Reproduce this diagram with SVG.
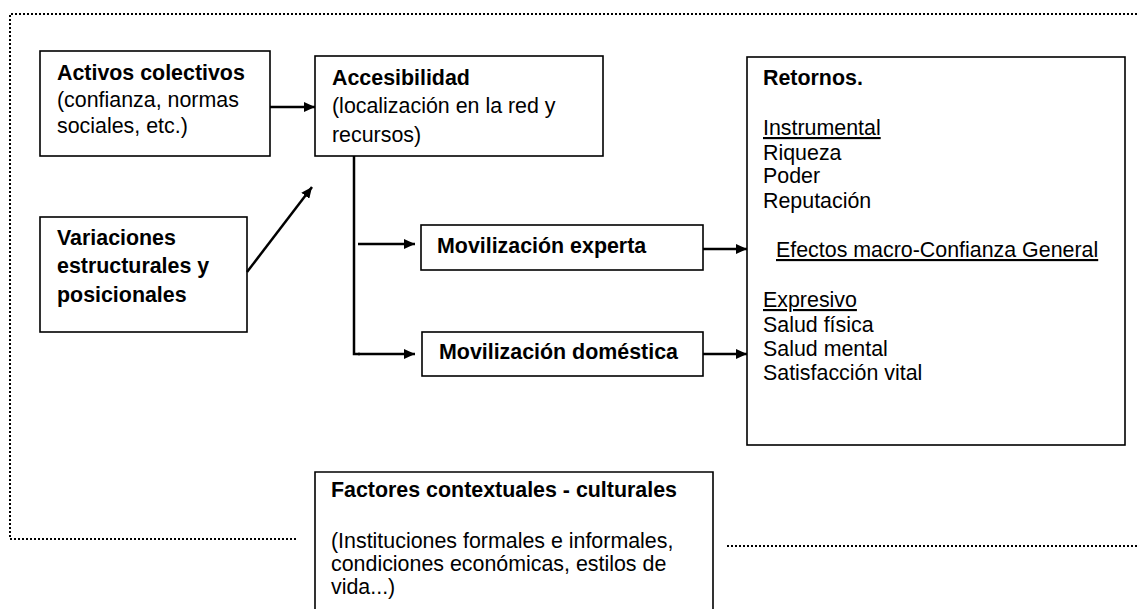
<svg xmlns="http://www.w3.org/2000/svg" width="1137" height="609" viewBox="0 0 1137 609">
<style>
text{font-family:"Liberation Sans",Arial,sans-serif;font-size:21.4px;fill:#000}
.b{font-weight:bold}
.u{text-decoration:underline}
.box{fill:#fff;stroke:#000;stroke-width:1.6}
.dot{fill:none;stroke:#000;stroke-width:2;stroke-dasharray:2 2}
.ar{fill:none;stroke:#000;stroke-width:2.5;marker-end:url(#ah)}
.ln{fill:none;stroke:#000;stroke-width:2.5}
</style>
<defs>
<marker id="ah" markerUnits="userSpaceOnUse" markerWidth="12" markerHeight="10" refX="11" refY="5" orient="auto">
<path d="M0,0 L11,5 L0,10 z" fill="#000"/>
</marker>
</defs>
<rect width="1137" height="609" fill="#fff"/>
<g id="frame">
<path class="dot" d="M1137,14 L10,14 L10,539 L298,539"/>
<path class="dot" d="M727,546 L1137,546"/>
</g>
<g id="activos">
<rect class="box" x="40" y="51" width="230" height="105"/>
<text class="b" x="57" y="80">Activos colectivos</text>
<text x="57" y="107">(confianza, normas</text>
<text x="57" y="133">sociales, etc.)</text>
</g>
<g id="accesibilidad">
<rect class="box" x="315" y="56" width="288" height="100"/>
<text class="b" x="332" y="85">Accesibilidad</text>
<text x="332" y="113">(localización en la red y</text>
<text x="332" y="142">recursos)</text>
</g>
<g id="variaciones">
<rect class="box" x="40" y="217" width="207" height="115"/>
<text class="b" x="57" y="245">Variaciones</text>
<text class="b" x="57" y="273">estructurales y</text>
<text class="b" x="57" y="302">posicionales</text>
</g>
<g id="experta">
<rect class="box" x="421" y="225" width="282" height="45"/>
<text class="b" x="437" y="253">Movilización experta</text>
</g>
<g id="domestica">
<rect class="box" x="422" y="332" width="281" height="44"/>
<text class="b" x="439" y="359">Movilización doméstica</text>
</g>
<g id="retornos">
<rect class="box" x="747" y="57" width="378" height="388"/>
<text class="b" x="763" y="85">Retornos.</text>
<text class="u" x="763" y="135">Instrumental</text>
<text x="763" y="160">Riqueza</text>
<text x="763" y="183">Poder</text>
<text x="763" y="208">Reputación</text>
<text class="u" x="776" y="257">Efectos macro-Confianza General</text>
<text class="u" x="763" y="307">Expresivo</text>
<text x="763" y="332">Salud física</text>
<text x="763" y="356">Salud mental</text>
<text x="763" y="380">Satisfacción vital</text>
</g>
<g id="factores">
<path class="box" d="M315,612 L315,472 L713,472 L713,612"/>
<text class="b" x="331" y="497">Factores contextuales - culturales</text>
<text x="331" y="548">(Instituciones formales e informales,</text>
<text x="331" y="571">condiciones económicas, estilos de</text>
<text x="331" y="594">vida...)</text>
</g>
<g id="connectors">
<path class="ar" d="M270,107 L315,107"/>
<path class="ar" d="M247,272 L312,187"/>
<path class="ln" d="M354,156 L354,354 L360,354"/>
<path class="ar" d="M358,354 L415,354"/>
<path class="ar" d="M358,244 L415,244"/>
<path class="ar" d="M703,249 L747,249"/>
<path class="ar" d="M703,354 L747,354"/>
</g>
</svg>
